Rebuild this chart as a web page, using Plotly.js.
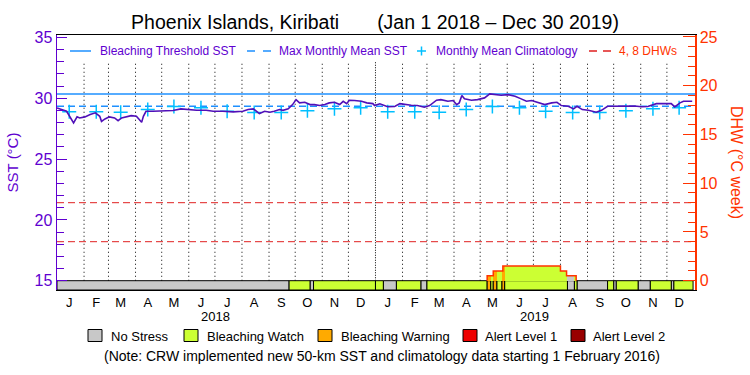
<!DOCTYPE html>
<html><head><meta charset="utf-8">
<script src="https://cdn.plot.ly/plotly-3.0.1.min.js"></script>
<style>html,body{margin:0;padding:0;background:#fff;}#chart{width:750px;height:375px;}</style>
</head><body><div id="chart"></div>
<script>
// ---------------- data ----------------
const sstDates = ['2018-01-01','2018-01-06','2018-01-12','2018-01-20','2018-01-24','2018-01-27','2018-02-02','2018-02-08','2018-02-14','2018-02-19','2018-02-21','2018-02-25','2018-03-02','2018-03-08','2018-03-12','2018-03-16','2018-03-21','2018-03-27','2018-04-02','2018-04-08','2018-04-10','2018-04-13','2018-04-21','2018-05-02','2018-05-14','2018-05-23','2018-05-29','2018-06-10','2018-06-21','2018-06-29','2018-07-10','2018-07-22','2018-08-02','2018-08-08','2018-08-14','2018-08-21','2018-08-27','2018-09-02','2018-09-07','2018-09-13','2018-09-17','2018-09-23','2018-09-28','2018-10-02','2018-10-06','2018-10-12','2018-10-18','2018-10-23','2018-10-29','2018-11-04','2018-11-09','2018-11-15','2018-11-21','2018-11-25','2018-11-29','2018-12-02','2018-12-08','2018-12-16','2018-12-22','2018-12-29','2018-12-31','2019-01-06','2019-01-15','2019-01-23','2019-01-29','2019-02-05','2019-02-11','2019-02-18','2019-02-26','2019-03-04','2019-03-12','2019-03-17','2019-03-25','2019-03-31','2019-04-04','2019-04-07','2019-04-10','2019-04-13','2019-04-21','2019-04-28','2019-05-06','2019-05-12','2019-05-18','2019-05-25','2019-06-02','2019-06-10','2019-06-17','2019-06-23','2019-06-29','2019-07-06','2019-07-14','2019-07-22','2019-07-28','2019-08-02','2019-08-10','2019-08-16','2019-08-20','2019-08-26','2019-09-02','2019-09-11','2019-09-17','2019-09-24','2019-10-10','2019-10-25','2019-11-02','2019-11-09','2019-11-19','2019-11-28','2019-12-06','2019-12-10','2019-12-16','2019-12-20','2019-12-30'];
const sstValues = [29.20,29.07,28.93,27.97,28.47,28.38,28.47,28.66,28.80,28.52,28.10,28.30,28.47,28.38,28.16,28.38,28.47,28.57,28.52,28.02,28.52,28.93,28.93,28.93,28.99,29.13,29.07,29.01,29.01,28.93,28.93,28.88,28.93,29.07,29.13,28.74,28.93,28.85,28.93,29.07,29.01,29.13,29.48,29.89,29.62,29.67,29.48,29.48,29.40,29.48,29.62,29.67,29.48,29.75,29.56,29.84,29.81,29.75,29.62,29.56,29.40,29.54,29.30,29.32,29.56,29.48,29.42,29.40,29.26,29.40,29.84,29.89,29.75,29.81,29.48,29.62,30.22,29.95,29.84,29.89,30.03,30.36,30.30,30.25,30.30,30.16,29.95,29.75,29.81,29.67,29.48,29.62,29.67,29.40,29.34,29.13,29.34,29.07,29.01,28.85,29.01,29.34,29.37,29.37,29.30,29.32,29.56,29.56,29.56,29.29,29.62,29.75,29.75];

const climYears = ['2018','2019'];
const climMonths = ['01','02','03','04','05','06','07','08','09','10','11','12'];
const climValues = [28.90,28.90,28.85,29.07,29.32,29.23,28.93,28.83,28.83,28.97,29.13,29.23];

const thresholdSST = 30.35;
const mmmSST = 29.35;
const dhwRefLevels = [4, 8];

const dhwDates = ['2019-05-09','2019-05-16','2019-05-27','2019-08-01','2019-08-08','2019-08-19'];
const dhwValues = [0.5, 1.0, 1.5, 1.0, 0.5, 0];

const stressStart = ['2018-01-01','2018-09-24','2018-10-18','2018-10-22','2019-01-01','2019-01-10','2019-01-25','2019-02-22','2019-03-01','2019-05-09','2019-05-13','2019-05-16','2019-05-20','2019-05-26','2019-05-29','2019-08-09','2019-08-17','2019-08-20','2019-09-24','2019-10-01','2019-10-04','2019-10-29','2019-11-12','2019-12-06','2019-12-09'];
const stressEnd   = ['2018-09-24','2018-10-18','2018-10-22','2019-01-01','2019-01-10','2019-01-25','2019-02-22','2019-03-01','2019-05-09','2019-05-13','2019-05-16','2019-05-20','2019-05-26','2019-05-29','2019-08-09','2019-08-17','2019-08-20','2019-09-24','2019-10-01','2019-10-04','2019-10-29','2019-11-12','2019-12-06','2019-12-09','2019-12-31'];
const stressLevel = [0,1,0,1,1,0,1,0,1,2,1,2,1,2,1,0,1,0,1,0,1,0,1,0,1];

const levelNames = ['No Stress','Bleaching Watch','Bleaching Warning','Alert Level 1','Alert Level 2'];
const monthTickDates = ['2018-01-15','2018-02-15','2018-03-15','2018-04-15','2018-05-15','2018-06-15','2018-07-15','2018-08-15','2018-09-15','2018-10-15','2018-11-15','2018-12-15','2019-01-15','2019-02-15','2019-03-15','2019-04-15','2019-05-15','2019-06-15','2019-07-15','2019-08-15','2019-09-15','2019-10-15','2019-11-15','2019-12-15'];
const monthLetters = ['J','F','M','A','M','J','J','A','S','O','N','D','J','F','M','A','M','J','J','A','S','O','N','D'];
const gridDates = ['2018-02-01','2018-03-01','2018-04-01','2018-05-01','2018-06-01','2018-07-01','2018-08-01','2018-09-01','2018-10-01','2018-11-01','2018-12-01','2019-02-01','2019-03-01','2019-04-01','2019-05-01','2019-06-01','2019-07-01','2019-08-01','2019-09-01','2019-10-01','2019-11-01','2019-12-01'];
const yearBoundary = '2019-01-01';
const yearLabels = ['2018','2019'];
const yearLabelDates = ['2018-07-02','2019-07-02'];

// ---------------- style ----------------
const purple = '#6000D0';
const sstColor = '#5010B8';
const orange = '#FF3300';
const thrColor = '#1E90FF';
const climColor = '#00BFFF';
const dhwLineColor = '#E02020';
const levelColors = ['#C8C8C8','#CCFF33','#FFAA00','#EE0000','#990000'];
const xr = ['2018-01-01','2020-01-02 05:00'];
const y2Bottom = -0.955;
const FONT = 'Liberation Sans, Arial, sans-serif';

const L = 57, R = 695, T = 35, B = 290;
const px2x = p => (p - L) / (R - L);
const py2y = p => (B - p) / (B - T);
const toStr = ms => new Date(ms).toISOString().slice(0,19).replace('T',' ');

const traces = [];

// stress bars
levelNames.forEach((name, li) => {
  const xs=[], ws=[], bs=[], hs=[];
  stressLevel.forEach((lv,i) => {
    if (lv === li) {
      xs.push(stressStart[i]);
      ws.push(Date.parse(stressEnd[i]) - Date.parse(stressStart[i]));
      bs.push(y2Bottom); hs.push(-y2Bottom);
    }
  });
  if (xs.length) traces.push({type:'bar', name, x:xs, y:hs, base:bs, width:ws, offset:0, yaxis:'y2',
    marker:{color:levelColors[li], line:{color:'black', width:1}}, showlegend:false, hoverinfo:'skip'});
});

// DHW area, coloured by stress level
levelNames.forEach((name, li) => {
  const xs=[], ws=[], hs=[];
  stressLevel.forEach((lv,i) => {
    if (lv !== li) return;
    const s0 = Date.parse(stressStart[i]), s1 = Date.parse(stressEnd[i]);
    for (let j = 0; j < dhwDates.length - 1; j++) {
      const d0 = Date.parse(dhwDates[j]), d1 = Date.parse(dhwDates[j+1]), v = dhwValues[j];
      const a = Math.max(s0, d0), b = Math.min(s1, d1);
      if (v > 0 && b > a) { xs.push(toStr(a)); ws.push(b - a); hs.push(v); }
    }
  });
  if (xs.length) traces.push({type:'bar', name: name + ' DHW', x:xs, y:hs, base:0, width:ws, offset:0, yaxis:'y2',
    marker:{color:levelColors[li], line:{width:0}}, showlegend:false, hoverinfo:'skip'});
});

// DHW outline
traces.push({type:'scatter', mode:'lines', x:[dhwDates[0]].concat(dhwDates), y:[0].concat(dhwValues), yaxis:'y2',
  line:{color:orange, width:1.5, shape:'hv'}, showlegend:false, hoverinfo:'skip'});

// reference lines
traces.push({type:'scatter', mode:'lines', name:'Bleaching Threshold SST', x:xr, y:[thresholdSST, thresholdSST],
  line:{color:thrColor, width:1.5}, showlegend:false});
traces.push({type:'scatter', mode:'lines', name:'Max Monthly Mean SST', x:xr, y:[mmmSST, mmmSST],
  line:{color:thrColor, width:1.5, dash:'7px,4px'}, showlegend:false});
const dx=[], dy=[];
dhwRefLevels.forEach(v => { dx.push(xr[0], xr[1], null); dy.push(v, v, null); });
traces.push({type:'scatter', mode:'lines', name:'4, 8 DHWs', x:dx, y:dy, yaxis:'y2',
  line:{color:dhwLineColor, width:1, dash:'7px,4px'}, showlegend:false});

// climatology
const cx=[], cy=[];
climYears.forEach(yr => climMonths.forEach((m,i) => { cx.push(yr + '-' + m + '-15'); cy.push(climValues[i]); }));
traces.push({type:'scatter', mode:'markers', name:'Monthly Mean Climatology', x:cx, y:cy,
  marker:{symbol:'cross-thin-open', size:10, line:{color:climColor, width:1.5}, color:climColor}, showlegend:false});

// SST
traces.push({type:'scatter', mode:'lines', name:'SST', x:sstDates, y:sstValues,
  line:{color:sstColor, width:1.6}, showlegend:false});

// ---------------- shapes ----------------
const shapes = [];
gridDates.forEach(d => shapes.push({type:'line', xref:'x', yref:'y', x0:d, x1:d, y0:15, y1:33, layer:'below',
  line:{color:'black', width:1, dash:'1px,3px'}}));
shapes.push({type:'line', xref:'x', yref:'y', x0:yearBoundary, x1:yearBoundary, y0:15, y1:33, layer:'below',
  line:{color:'black', width:1, dash:'1px,1.5px'}});

// top legend swatches
const ly = py2y(51);
shapes.push({type:'line', xref:'paper', yref:'paper', x0:px2x(70), x1:px2x(91), y0:ly, y1:ly, line:{color:thrColor, width:1.5}});
shapes.push({type:'line', xref:'paper', yref:'paper', x0:px2x(247), x1:px2x(271), y0:ly, y1:ly, line:{color:thrColor, width:1.5, dash:'8px,8px'}});
shapes.push({type:'line', xref:'paper', yref:'paper', x0:px2x(417), x1:px2x(426), y0:ly, y1:ly, line:{color:climColor, width:1.5}});
shapes.push({type:'line', xref:'paper', yref:'paper', x0:px2x(421.5), x1:px2x(421.5), y0:py2y(46.5), y1:py2y(55.5), line:{color:climColor, width:1.5}});
shapes.push({type:'line', xref:'paper', yref:'paper', x0:px2x(589), x1:px2x(611), y0:ly, y1:ly, line:{color:dhwLineColor, width:1.5, dash:'8px,6px'}});

// bottom legend boxes
const boxX = [88, 184, 318, 463, 571];
const textX = [109, 205, 339, 483, 591];
boxX.forEach((bx,i) => shapes.push({type:'rect', xref:'paper', yref:'paper', x0:px2x(bx), x1:px2x(bx+14), y0:py2y(341.5), y1:py2y(329.5),
  fillcolor:levelColors[i], line:{color:'black', width:1}}));

// ---------------- annotations ----------------
const annotations = [];
const topLeg = [[98,'Bleaching Threshold SST',purple],[277,'Max Monthly Mean SST',purple],[433.5,'Monthly Mean Climatology',purple],[616.5,'4, 8 DHWs',orange]];
topLeg.forEach(([x,t,c]) => annotations.push({xref:'paper', yref:'paper', x:px2x(x), y:ly, xanchor:'left', yanchor:'middle', text:t, showarrow:false,
  font:{family:FONT, size:12, color:c}}));
levelNames.forEach((t,i) => annotations.push({xref:'paper', yref:'paper', x:px2x(textX[i]), y:py2y(336), xanchor:'left', yanchor:'middle', text:t, showarrow:false,
  font:{family:FONT, size:13, color:'black'}}));
annotations.push({xref:'paper', yref:'paper', x:px2x(382), y:py2y(356), xanchor:'center', yanchor:'middle', showarrow:false,
  text:'(Note: CRW implemented new 50-km SST and climatology data starting 1 February 2016)', font:{family:FONT, size:14, color:'black'}});
yearLabels.forEach((t,i) => annotations.push({xref:'x', yref:'paper', x:yearLabelDates[i], y:py2y(316.5), xanchor:'center', yanchor:'middle', text:t, showarrow:false,
  font:{family:FONT, size:13, color:'black'}}));
annotations.push({xref:'paper', yref:'paper', x:px2x(737), y:py2y(162), xanchor:'center', yanchor:'middle', textangle:90, showarrow:false,
  text:'DHW (°C week)', font:{family:FONT, size:16, color:orange}});

const layout = {
  width:750, height:375,
  margin:{l:L, r:750-R, t:T, b:375-B, pad:0},
  paper_bgcolor:'white', plot_bgcolor:'white',
  showlegend:false, barmode:'overlay', bargap:0,
  title:{text:'Phoenix Islands, Kiribati\u00A0\u00A0\u00A0\u00A0\u00A0\u00A0\u00A0(Jan 1 2018 – Dec 30 2019)', x:0.5, xanchor:'center', y:1-22.5/375, yanchor:'middle', yref:'container',
    font:{family:FONT, size:19.5, color:'black'}},
  xaxis:{type:'date', range:xr, tickmode:'array', tickvals:monthTickDates, ticktext:monthLetters, ticks:'', showgrid:false, zeroline:false,
    showline:true, linecolor:'black', linewidth:1, mirror:true, tickfont:{family:FONT, size:13, color:'black'}, fixedrange:true},
  yaxis:{range:[14.24, 35.2], tick0:0, dtick:5, ticks:'inside', ticklen:10, tickcolor:purple, tickwidth:1,
    minor:{dtick:1, ticks:'inside', ticklen:7, tickcolor:purple, showgrid:false},
    showgrid:false, zeroline:false, showline:true, linecolor:purple, linewidth:1.5,
    tickfont:{family:FONT, size:16, color:purple},
    title:{text:'SST (°C)', font:{family:FONT, size:15, color:purple}, standoff:12}, fixedrange:true},
  yaxis2:{overlaying:'y', side:'right', range:[y2Bottom, 25.2], tick0:0, dtick:5, ticks:'inside', ticklen:12, tickcolor:orange, tickwidth:1,
    minor:{dtick:1, ticks:'inside', ticklen:7, tickcolor:orange, showgrid:false},
    showgrid:false, zeroline:false, showline:true, linecolor:orange, linewidth:1.5,
    tickfont:{family:FONT, size:16, color:orange}, fixedrange:true},
  shapes, annotations
};

Plotly.newPlot('chart', traces, layout, {staticPlot:true, displayModeBar:false});
</script>
</body></html>
